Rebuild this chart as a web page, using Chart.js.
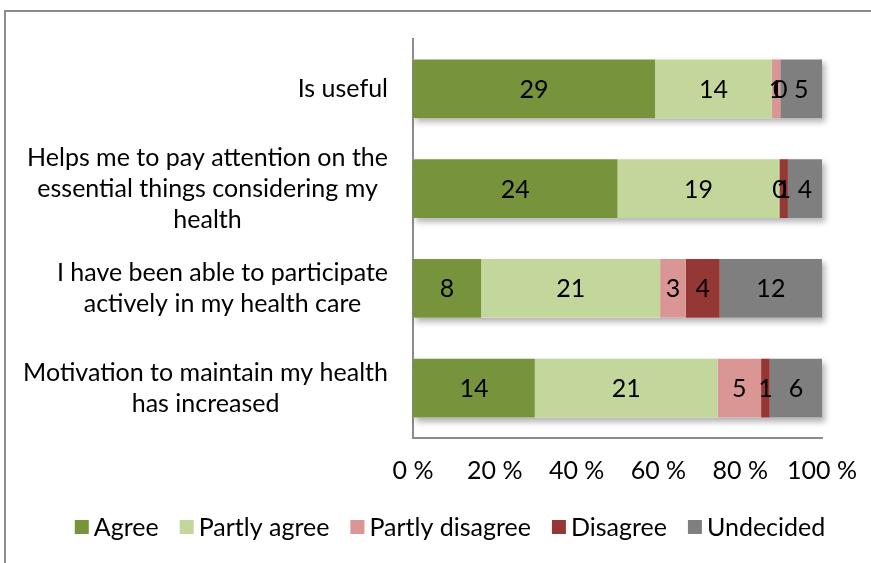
<!DOCTYPE html>
<html>
<head>
<meta charset="utf-8">
<script src="https://cdn.jsdelivr.net/npm/chart.js@4.4.0/dist/chart.umd.min.js"></script>
<style>
  html, body { margin: 0; padding: 0; background: #fff; }
  #wrap { position: relative; width: 871px; height: 563px; overflow: hidden; }
  #frame { position: absolute; left: 4px; top: 10px; width: 900px; height: 600px;
           border-left: 2px solid #8c8c8c; border-top: 2px solid #8c8c8c; pointer-events: none; }
  canvas { display: block; }
</style>
</head>
<body>
<div id="wrap">
  <canvas id="c" width="871" height="563"></canvas>
  <div id="frame"></div>
</div>
<script>
// ---- Data ----
const categories = [
  ["Is useful"],
  ["Helps me to pay attention on the", "essential things considering my", "health"],
  ["I have been able to participate", "actively in my health care"],
  ["Motivation to maintain my health", "has increased"]
];
const seriesNames = ["Agree", "Partly agree", "Partly disagree", "Disagree", "Undecided"];
const agree          = [29, 24, 8, 14];
const partlyAgree    = [14, 19, 21, 21];
const partlyDisagree = [1, 0, 3, 5];
const disagree       = [0, 1, 4, 1];
const undecided      = [5, 4, 12, 6];
const xTicks = [0, 20, 40, 60, 80, 100];
const colors = ["#77933C", "#C3D69B", "#D99694", "#953735", "#7F7F7F"];

const counts = [agree, partlyAgree, partlyDisagree, disagree, undecided];
const totals = categories.map((_, i) => counts.reduce((s, arr) => s + arr[i], 0));

const FONT = "Lato";
const FS = 25;

const datasets = counts.map((arr, k) => ({
  label: seriesNames[k],
  data: arr.map((v, i) => v / totals[i] * 100),
  counts: arr,
  backgroundColor: colors[k],
  borderWidth: 0,
  barPercentage: 0.59,
  categoryPercentage: 1.0
}));

const shadowPlugin = {
  id: 'barShadow',
  beforeDatasetsDraw(chart) {
    const ctx = chart.ctx;
    const xs = chart.scales.x;
    const meta = chart.getDatasetMeta(0);
    ctx.save();
    ctx.shadowColor = 'rgba(0,0,0,0.3)';
    ctx.shadowBlur = 6;
    ctx.shadowOffsetX = 3;
    ctx.shadowOffsetY = 4;
    ctx.fillStyle = '#ffffff';
    meta.data.forEach(el => {
      const l = xs.getPixelForValue(0), r = xs.getPixelForValue(100);
      ctx.fillRect(l, el.y - el.height / 2, r - l, el.height);
    });
    ctx.restore();
  }
};

const labelPlugin = {
  id: 'valueLabels',
  afterDatasetsDraw(chart) {
    const ctx = chart.ctx;
    ctx.save();
    ctx.font = `${FS}px ${FONT}`;
    ctx.fillStyle = '#000';
    ctx.textAlign = 'center';
    ctx.textBaseline = 'middle';
    chart.data.datasets.forEach((ds, k) => {
      const meta = chart.getDatasetMeta(k);
      meta.data.forEach((el, i) => {
        const cx = (el.x + el.base) / 2;
        ctx.fillText(String(ds.counts[i]), cx, el.y + 1);
      });
    });
    // category labels (multi-line, each block centered, right-aligned near axis)
    const ys = chart.scales.y;
    const rightEdge = chart.chartArea.left - 25;
    const lh = 31;
    categories.forEach((lines, i) => {
      const yc = ys.getPixelForTick(i);
      const w = Math.max(...lines.map(t => ctx.measureText(t).width));
      const cx = rightEdge - w / 2;
      lines.forEach((t, j) => {
        ctx.fillText(t, cx, yc + (j - (lines.length - 1) / 2) * lh);
      });
    });
    ctx.restore();
  },
  afterDraw(chart) {
    // legend: square swatch + label, row centred
    const ctx = chart.ctx;
    ctx.save();
    ctx.font = `${FS}px ${FONT}`;
    ctx.textBaseline = 'middle';
    ctx.textAlign = 'left';
    const box = 14, gapText = 5, gapItem = 21;
    const items = chart.data.datasets.map(ds => ({ label: ds.label, color: ds.backgroundColor, w: ctx.measureText(ds.label).width }));
    const total = items.reduce((s, it) => s + box + gapText + it.w, 0) + gapItem * (items.length - 1);
    let x = 450 - total / 2;
    const yc = 527;
    items.forEach(it => {
      ctx.fillStyle = it.color;
      ctx.fillRect(x, yc - box / 2, box, box);
      x += box + gapText;
      ctx.fillStyle = '#000';
      ctx.fillText(it.label, x, yc + 1);
      x += it.w + gapItem;
    });
    ctx.restore();
  }
};

new Chart(document.getElementById('c'), {
  type: 'bar',
  data: { labels: categories, datasets },
  options: {
    indexAxis: 'y',
    responsive: false,
    animation: false,
    layout: { padding: { top: 39, right: 49, bottom: 58, left: 0 } },
    scales: {
      x: {
        stacked: true, min: 0, max: 100,
        afterBuildTicks(scale) { scale.ticks = xTicks.map(v => ({ value: v })); },
        afterFit(scale) { scale.height = 67; scale.paddingLeft = 0; scale.paddingRight = 0; },
        grid: { display: false, drawTicks: false },
        border: { display: true, color: '#8c8c8c', width: 2 },
        ticks: {
          padding: 18, color: '#000',
          font: { family: FONT, size: FS },
          callback: v => v + ' %'
        }
      },
      y: {
        stacked: true,
        afterFit(scale) { scale.width = 413; },
        grid: { display: false, drawTicks: false },
        border: { display: true, color: '#8c8c8c', width: 2 },
        ticks: { display: false }
      }
    },
    plugins: {
      tooltip: { enabled: false },
      legend: { display: false }
    }
  },
  plugins: [shadowPlugin, labelPlugin]
});
</script>
</body>
</html>
